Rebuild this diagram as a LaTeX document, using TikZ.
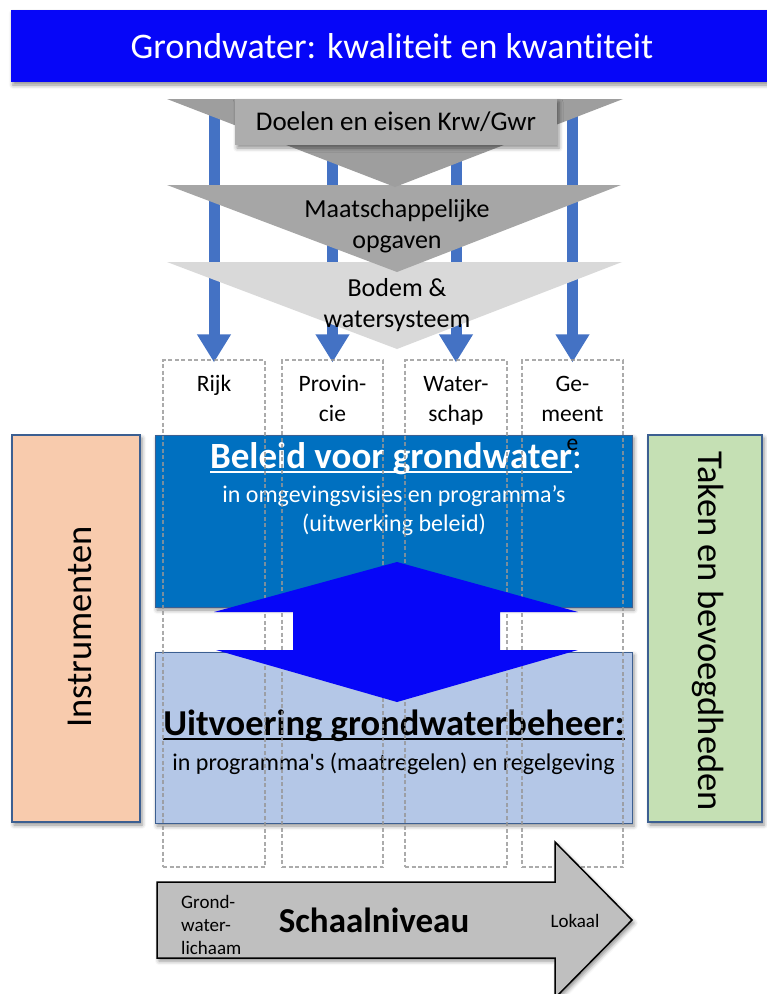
\documentclass[tikz,border=0pt]{standalone}
\usepackage{fontspec}
\setmainfont{Carlito}[Ligatures={TeX,NoCommon}]
\usetikzlibrary{arrows.meta,shadows.blur}
\definecolor{bannerblue}{RGB}{6,6,248}
\definecolor{arrowblue}{RGB}{68,114,196}
\definecolor{policyblue}{RGB}{0,112,192}
\definecolor{execblue}{RGB}{180,199,231}
\definecolor{peach}{RGB}{248,203,173}
\definecolor{sage}{RGB}{197,224,180}
\definecolor{edgeblue}{RGB}{60,95,145}
\definecolor{greyA}{RGB}{158,158,158}
\definecolor{greyB}{RGB}{173,173,173}
\definecolor{greyC}{RGB}{166,166,166}
\definecolor{greyD}{RGB}{217,217,217}
\definecolor{dashgrey}{RGB}{150,150,150}
\definecolor{scalegrey}{RGB}{191,191,191}
\newcommand\setfs[2]{\fontsize{#1}{#2}\selectfont}
% underline sitting close to the baseline
\newcommand\boxul[2]{\setbox0\hbox{#2}\rlap{\textcolor{#1}{\rule[-5pt]{\wd0}{2pt}}}\box0}
\pgfdeclarelayer{under}
\pgfsetlayers{under,main}
\begin{document}
\begin{tikzpicture}[x=1pt,y=-1pt,
  softshadow/.style={blur shadow={shadow xshift=2pt,shadow yshift=-3pt,shadow blur radius=4pt,shadow opacity=45}},
  banner/.style={rectangle,fill=bannerblue,minimum width=762pt,minimum height=72pt,inner sep=0,
    text=white,font=\setfs{36}{43},softshadow},
  downarrow/.style={draw=arrowblue,line width=11pt,-{Triangle[width=32pt,length=28pt]}},
  tritext/.style={align=center,font=\setfs{26}{31},inner sep=0},
  goalbox/.style={rectangle,fill=greyB,minimum width=322pt,minimum height=46pt,inner sep=0,
    font=\setfs{27}{32},softshadow},
  panel/.style={rectangle,inner sep=0,minimum width=477pt,minimum height=172pt,draw=edgeblue,
    line width=1pt,softshadow},
  sidebox/.style={rectangle,inner sep=0,minimum height=387pt,draw=edgeblue,line width=1.2pt,
    softshadow,font=\setfs{36.5}{43}},
  column/.style={rectangle,inner sep=0,minimum width=101pt,minimum height=507pt,draw=dashgrey,
    line width=1.2pt,dash pattern=on 4pt off 2.5pt,draw opacity=0.8},
  collabel/.style={align=center,anchor=north,inner sep=0,font=\setfs{23.5}{29.5}},
  basetext/.style={anchor=base,inner sep=0},
]
\useasboundingbox (0,0) rectangle (767,994);

% title banner
\node[banner] (title) at (392,46) {Grondwater: kwaliteit en kwantiteit};

% funnel of goals
\fill[greyD] (167,262) -- (622,262) -- (397,349) -- cycle;
\fill[greyC] (167,185) -- (621,185) -- (397,272) -- cycle;
\fill[greyA] (167,99) -- (623,99) -- (395,187) -- cycle;
\node[goalbox] (doelen) at (396,122) {Doelen en eisen Krw/Gwr};
\node[tritext] (maatsch) at (397,226) {Maatschappelijke\\opgaven};
\node[tritext] (bodem) at (397,305) {Bodem \&\\watersysteem};

% policy and execution panels
\node[panel,fill=policyblue] (beleid) at (393.5,521) {};
\node[basetext,text=white,font=\setfs{37}{44}] (beleidkop) at (396,468)
  {\boxul{white}{\bfseries Beleid voor grondwater}:};
\node[basetext,text=white,font=\setfs{24}{29}] (beleidsub1) at (394,502) {in omgevingsvisies en programma’s};
\node[basetext,text=white,font=\setfs{24}{29}] (beleidsub2) at (394,531) {(uitwerking beleid)};

\node[panel,fill=execblue,minimum height=171pt] (uitvoering) at (393.5,737.5) {};
\node[basetext,font=\setfs{36.5}{43}] (uitvkop) at (394,735)
  {\boxul{black}{\bfseries Uitvoering grondwaterbeheer:}};
\node[basetext,font=\setfs{24}{29}] (uitvsub) at (393.5,770)
  {in programma\textquotesingle s (maatregelen) en regelgeving};

% side panels
\node[sidebox,fill=peach,minimum width=128pt] (instr) at (76,628.5) {};
\node[rotate=90,font=\setfs{36.5}{43},inner sep=0] (instrtxt) at (80,627) {Instrumenten};
\node[sidebox,fill=sage,minimum width=114pt] (taken) at (705,628.5) {};
\node[rotate=-90,font=\setfs{36.5}{43},inner sep=0] (takentxt) at (708,631) {Taken en bevoegdheden};

% government layers
\node[column,minimum width=102pt] (rijk) at (214,613.5) {};
\node[column] (prov) at (332.5,613.5) {};
\node[column,minimum width=102pt] (wschap) at (456,613.5) {};
\node[column] (gem) at (572.5,613.5) {};

% two-way link between policy and execution
\fill[bannerblue] (397,562) -- (578,612) -- (500,612) -- (500,650) -- (578,650) -- (397,702)
  -- (216,650) -- (293,650) -- (293,612) -- (214,612) -- cycle;

\node[collabel] (rijklbl) at (rijk.north |- 0,371) {\strut Rijk};
\node[collabel] (provlbl) at (prov.north |- 0,371) {\strut Provin-\\cie};
\node[collabel] (wschaplbl) at (wschap.north |- 0,371) {\strut Water-\\schap};
\node[collabel] (gemlbl) at (gem.north |- 0,371) {\strut Ge-\\meent\\e};

% scale arrow
\fill[scalegrey,draw=black,line width=1.5pt,softshadow]
  (157,882) -- (555,882) -- (555,842) -- (632,920) -- (555,998) -- (555,958) -- (157,958) -- cycle;
\node[basetext,font=\setfs{35}{42}\bfseries] (schaal) at (374,932) {Schaalniveau};
\node[anchor=west,align=left,inner sep=0,font=\setfs{19}{23.3}] (gwl) at (181,925) {Grond-\\water-\\lichaam};
\node[basetext,font=\setfs{19}{23}] (lokaal) at (575,927) {Lokaal};

% arrows running down behind the funnel
\coordinate (s1) at (214,100);
\coordinate (s2) at (332.5,100);
\coordinate (s3) at (456,100);
\coordinate (s4) at (572.5,100);
\begin{pgfonlayer}{under}
\draw[downarrow] (s1) -- ([yshift=-3pt]rijk.north);
\draw[downarrow] (s2) -- ([yshift=-3pt]prov.north);
\draw[downarrow] (s3) -- ([yshift=-3pt]wschap.north);
\draw[downarrow] (s4) -- ([yshift=-3pt]gem.north);
\end{pgfonlayer}
\end{tikzpicture}
\end{document}
